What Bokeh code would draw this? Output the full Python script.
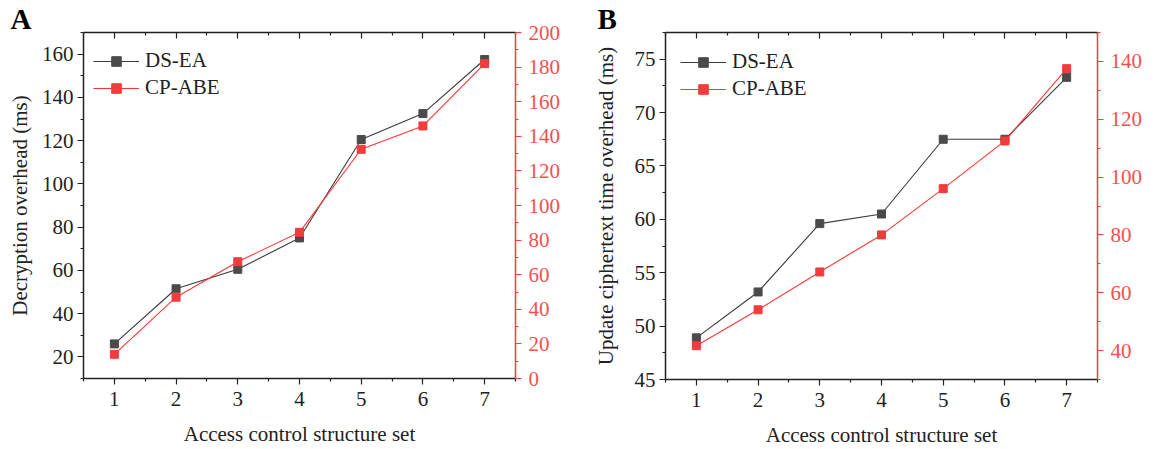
from bokeh.plotting import figure
from bokeh.models import (Range1d, LinearAxis, FixedTicker, Legend, LegendItem, Title)
from bokeh.layouts import row
from bokeh.embed import file_html
from bokeh.resources import INLINE

# ---------------- data ----------------
sets = [1, 2, 3, 4, 5, 6, 7]
series_names = ["DS-EA", "CP-ABE"]
dec_dsea = [26, 51.5, 60.5, 75, 120.5, 132.5, 157.5]        # left axis (ms)
dec_cpabe = [14, 47, 67.5, 84.5, 132.5, 146, 182]            # right axis
upd_dsea = [48.9, 53.2, 59.6, 60.5, 67.5, 67.5, 73.3]        # left axis (ms)
upd_cpabe = [41.7, 54.1, 67.2, 80, 96, 112.5, 137.5]         # right axis

x_ticks = [1, 2, 3, 4, 5, 6, 7]
a_left_ticks = [20, 40, 60, 80, 100, 120, 140, 160]
a_right_ticks = [0, 20, 40, 60, 80, 100, 120, 140, 160, 180, 200]
b_left_ticks = [45, 50, 55, 60, 65, 70, 75]
b_right_ticks = [40, 60, 80, 100, 120, 140]

FONT = "Liberation Serif"
BLACK = "#222222"
GRAY_LINE = "#3a3a3a"
GRAY_MARK = "#4a4a4a"
RED_LINE = "#ff3535"
RED_MARK = "#f03c3c"
RED_AXIS = "#ff3b3b"
RED_TEXT = "#f25050"
FS = "21px"
FW = 432


def style_axis(ax, color=BLACK, text_color=BLACK):
    ax.axis_line_color = color
    ax.axis_line_width = 1.5
    ax.major_tick_line_color = color
    ax.minor_tick_line_color = color
    ax.major_tick_line_width = 1.2
    ax.minor_tick_line_width = 1.2
    ax.major_tick_out = 6
    ax.major_tick_in = 0
    ax.minor_tick_out = 3
    ax.minor_tick_in = 0
    ax.major_label_text_font = FONT
    ax.major_label_text_font_size = FS
    ax.major_label_text_color = text_color
    ax.axis_label_text_font = FONT
    ax.axis_label_text_font_size = FS
    ax.axis_label_text_font_style = "normal"
    ax.axis_label_text_color = BLACK


def halves(ticks, step):
    return [t - step / 2 for t in ticks] + [ticks[-1] + step / 2]


def make_title(letter, dx):
    kw = dict(text=letter, align="left", offset=-dx, text_font=FONT,
              text_font_size="29px", text_font_style="bold", text_color="black")
    try:
        return Title(standoff=-4, **kw)
    except Exception:
        return Title(standoff=0, **kw)


def make_panel(letter, ys_left, ys_right, left_rng, right_rng, left_ticks, left_step,
               right_ticks, right_step, ylabel, bl, bt, br, bb, fh, ylab_standoff,
               leg_top, leg_left, letter_dx):
    xr = Range1d(0.5, 7.5)
    yr = Range1d(*left_rng)
    p = figure(frame_width=FW, frame_height=fh, x_range=xr, y_range=yr,
               output_backend="svg", toolbar_location=None,
               min_border_left=bl, min_border_right=br, min_border_top=bt,
               min_border_bottom=bb)
    p.outline_line_color = None
    p.xgrid.visible = False
    p.ygrid.visible = False
    p.background_fill_color = "white"
    p.border_fill_color = "white"
    p.extra_y_ranges = {"r": Range1d(*right_rng)}

    p.title = make_title(letter, letter_dx)

    # bottom axis
    xa = p.xaxis[0]
    xa.ticker = FixedTicker(ticks=x_ticks, minor_ticks=halves(x_ticks, 1))
    style_axis(xa)
    xa.axis_label = "Access control structure set"
    xa.major_label_standoff = 7
    xa.axis_label_standoff = 13

    # left axis
    ya = p.yaxis[0]
    ya.ticker = FixedTicker(ticks=left_ticks, minor_ticks=halves(left_ticks, left_step))
    style_axis(ya)
    ya.axis_label = ylabel
    ya.major_label_standoff = 4
    ya.axis_label_standoff = ylab_standoff

    # top axis (ticks inward, no labels)
    ta = LinearAxis(ticker=FixedTicker(ticks=x_ticks, minor_ticks=halves(x_ticks, 1)))
    style_axis(ta)
    ta.major_tick_out = 0
    ta.major_tick_in = 6
    ta.minor_tick_out = 0
    ta.minor_tick_in = 3
    ta.major_label_standoff = 0
    ta.major_label_text_font_size = "0px"
    ta.major_label_text_alpha = 0
    p.add_layout(ta, "above")

    # right axis (red)
    ra = LinearAxis(y_range_name="r",
                    ticker=FixedTicker(ticks=right_ticks,
                                       minor_ticks=halves(right_ticks, right_step)))
    style_axis(ra, color=RED_AXIS, text_color=RED_TEXT)
    ra.major_label_standoff = 7
    p.add_layout(ra, "right")

    l1 = p.line(sets, ys_left, line_color=GRAY_LINE, line_width=1.1)
    m1 = p.scatter(sets, ys_left, marker="square", size=8,
                   fill_color=GRAY_MARK, line_color=GRAY_MARK)
    l2 = p.line(sets, ys_right, y_range_name="r", line_color=RED_LINE, line_width=1.1)
    m2 = p.scatter(sets, ys_right, y_range_name="r", marker="square", size=8,
                   fill_color=RED_MARK, line_color=RED_MARK)

    gh, sp = 24, 2
    leg_h = 2 * gh + sp
    leg = Legend(items=[LegendItem(label=series_names[0], renderers=[l1, m1]),
                        LegendItem(label=series_names[1], renderers=[l2, m2])],
                 location=(leg_left, fh - leg_top - leg_h))
    leg.border_line_color = None
    leg.background_fill_alpha = 0
    leg.padding = 0
    leg.margin = 0
    leg.spacing = sp
    leg.glyph_width = 46
    leg.glyph_height = gh
    leg.label_height = gh
    leg.label_standoff = 6
    leg.label_text_font = FONT
    leg.label_text_font_size = FS
    leg.label_text_color = BLACK
    p.add_layout(leg)
    return p


pa = make_panel("A", dec_dsea, dec_cpabe, (10, 170), (0, 200),
                a_left_ticks, 20, a_right_ticks, 20,
                "Decryption overhead (ms)", 83, 32, 65, 66, 346, 7,
                18, 10, 73)
pb = make_panel("B", upd_dsea, upd_cpabe, (45, 77.5), (30, 150),
                b_left_ticks, 5, b_right_ticks, 20,
                "Update ciphertext time overhead (ms)", 85, 32, 51, 66, 347, 14,
                19, 15, 68)

layout = row(pa, pb)
open("out.html", "w").write(file_html(layout, INLINE))
